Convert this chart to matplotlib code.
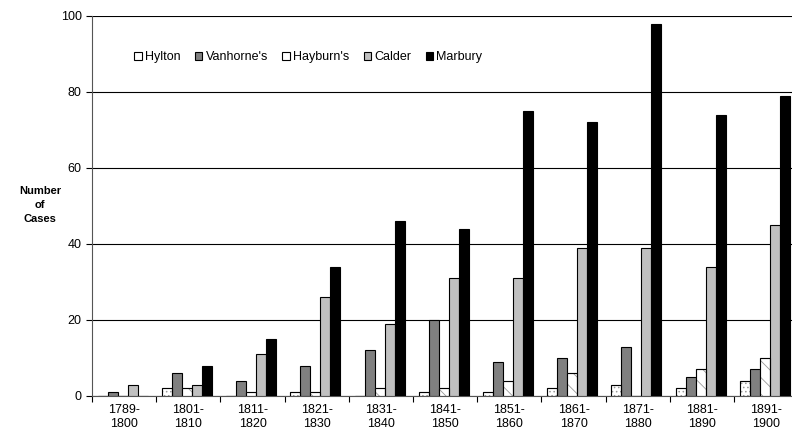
import matplotlib
matplotlib.use("Agg")
import matplotlib.pyplot as plt
import numpy as np

plt.rcParams['font.family'] = ['Liberation Sans', 'DejaVu Sans']
plt.rcParams['hatch.linewidth'] = 0.6

periods = ["1789-\n1800", "1801-\n1810", "1811-\n1820", "1821-\n1830", "1831-\n1840",
           "1841-\n1850", "1851-\n1860", "1861-\n1870", "1871-\n1880", "1881-\n1890", "1891-\n1900"]
hylton    = [0, 2, 0, 1, 0, 1, 1, 2, 3, 2, 4]
vanhorne  = [1, 6, 4, 8, 12, 20, 9, 10, 13, 5, 7]
hayburn   = [0, 2, 1, 1, 2, 2, 4, 6, 0, 7, 10]
calder    = [3, 3, 11, 26, 19, 31, 31, 39, 39, 34, 45]
marbury   = [0, 8, 15, 34, 46, 44, 75, 72, 98, 74, 79]

series = [("Hylton", hylton, "white", "...."),
          ("Vanhorne's", vanhorne, "#808080", None),
          ("Hayburn's", hayburn, "white", "\\\\"),
          ("Calder", calder, "#c0c0c0", None),
          ("Marbury", marbury, "black", None)]

fig = plt.figure(figsize=(7.92, 4.38), dpi=100)
ax = fig.add_axes([92/792, 1-396/438, 706.2/792, 380/438])

x = np.arange(len(periods))
w = 0.156
handles = []
for j, (name, vals, col, hatch) in enumerate(series):
    off = (j - 2) * w - 0.02
    bars = ax.bar(x + off, vals, width=w, color=col, edgecolor="black",
                  linewidth=0.8, zorder=3)
    if hatch:
        for b in bars:
            b.set_hatch(hatch)
            b.set_edgecolor("#999999")
        ax.bar(x + off, vals, width=w, facecolor="none", edgecolor="black",
               linewidth=0.8, zorder=4)
    h = plt.Rectangle((0, 0), 1, 1, facecolor=col, edgecolor="black", linewidth=0.8)
    handles.append((h, name))

ax.set_xlim(-0.5, len(periods) - 0.5)
ax.set_ylim(0, 100)
ax.set_yticks([0, 20, 40, 60, 80, 100])
ax.yaxis.grid(True, color="black", linewidth=0.8, zorder=0)
ax.set_axisbelow(True)
ax.set_xticks(x)
ax.set_xticklabels(periods, fontsize=9)
ax.tick_params(axis='x', which='major', length=0, pad=6)
ax.set_xticks(np.arange(-0.5, len(periods)), minor=True)
ax.tick_params(axis='x', which='minor', length=4, direction='out', width=0.8)
ax.tick_params(axis='y', length=4, direction='out', width=0.8, labelsize=9)
for s in ['top', 'right']:
    ax.spines[s].set_visible(False)
ax.spines['left'].set_linewidth(0.8)
ax.spines['bottom'].set_linewidth(0.8)
ax.spines['left'].set_color("#555555")
ax.spines['bottom'].set_color("#555555")

fig.text(40/792, 1-205/438, "Number\nof\nCases", ha="center", va="center",
         fontsize=8, fontweight="bold", linespacing=1.5)

leg = fig.legend([h for h, n in handles], [n for h, n in handles], ncol=5,
                 loc="center left", bbox_to_anchor=(128/792, 1-57/438), frameon=False,
                 fontsize=9, handlelength=0.6, handleheight=0.6, handletextpad=0.25,
                 columnspacing=1.15, borderpad=0)

fig.savefig("out.png", dpi=100)
